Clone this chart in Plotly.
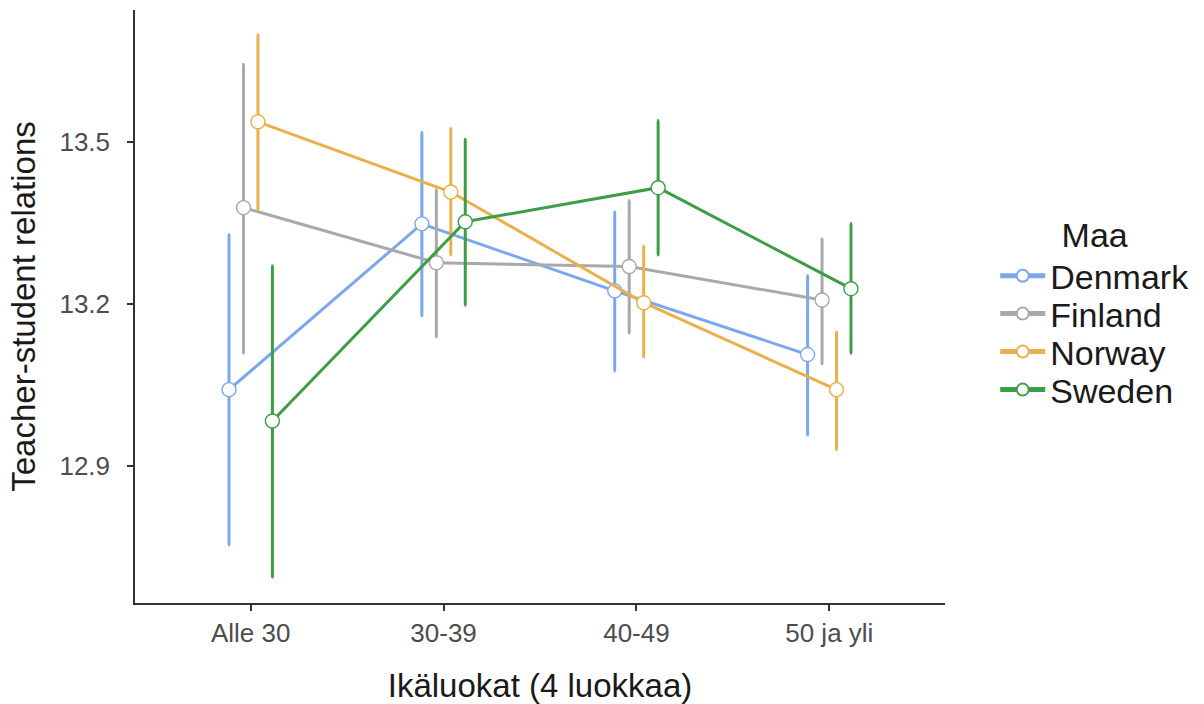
import plotly.graph_objects as go

age_groups = ["Alle 30", "30-39", "40-49", "50 ja yli"]
countries = ["Denmark", "Finland", "Norway", "Sweden"]
colors = ["#7BA7EC", "#A9A9A9", "#EAB04B", "#3E9E47"]

# mean and 95% interval per country, ordered as age_groups
means = {
    "Denmark": [13.041, 13.348, 13.224, 13.106],
    "Finland": [13.378, 13.276, 13.269, 13.207],
    "Norway":  [13.537, 13.407, 13.202, 13.041],
    "Sweden":  [12.983, 13.352, 13.415, 13.228],
}
upper = {
    "Denmark": [13.328, 13.517, 13.370, 13.252],
    "Finland": [13.643, 13.411, 13.391, 13.320],
    "Norway":  [13.698, 13.524, 13.306, 13.148],
    "Sweden":  [13.270, 13.504, 13.539, 13.348],
}
lower = {
    "Denmark": [12.754, 13.178, 13.076, 12.957],
    "Finland": [13.109, 13.139, 13.146, 13.089],
    "Norway":  [13.374, 13.291, 13.102, 12.930],
    "Sweden":  [12.694, 13.198, 13.291, 13.109],
}

dodge = [-0.1125, -0.0375, 0.0375, 0.1125]
legend_ids = ["legend", "legend2", "legend3", "legend4"]

FONT = "Liberation Sans, Arial, sans-serif"
TXT = "#1A1A1A"

fig = go.Figure()
for i, (c, col) in enumerate(zip(countries, colors)):
    xs = [k + 1 + dodge[i] for k in range(len(age_groups))]
    m = means[c]
    fig.add_trace(go.Scatter(
        x=xs, y=m, name=c, mode="lines+markers", legend=legend_ids[i],
        line=dict(color=col, width=3),
        marker=dict(size=14, color="white", line=dict(color=col, width=1.4)),
        error_y=dict(
            type="data", symmetric=False,
            array=[u - v for u, v in zip(upper[c], m)],
            arrayminus=[v - l for v, l in zip(m, lower[c])],
            color=col, thickness=3, width=1,
        ),
    ))

# plot area spans 10..603 px vertically; one single-entry legend per country
def paper_y(py):
    return (603 - py) / 593

legend_common = dict(
    font=dict(size=34, color=TXT, family=FONT),
    x=1.062, xanchor="left", yanchor="middle",
    itemsizing="constant", itemwidth=45, bgcolor="rgba(0,0,0,0)",
)
item_y = [276, 314, 352, 390]
layout_legends = {}
for i, lid in enumerate(legend_ids):
    spec = dict(legend_common, y=paper_y(item_y[i]))
    if i == 0:
        spec["title"] = dict(text="Maa", font=dict(size=34, color=TXT, family=FONT), side="top center")
        spec["yanchor"] = "bottom"
        spec["y"] = paper_y(item_y[0] + 29)
    layout_legends[lid] = spec

tick_font = dict(family=FONT, size=26, color="#4D4D4D")
fig.update_layout(
    width=1204, height=704,
    margin=dict(l=135, r=259, t=10, b=101, autoexpand=False),
    plot_bgcolor="white", paper_bgcolor="white",
    font=dict(family=FONT, color=TXT),
    showlegend=True,
    xaxis=dict(
        range=[0.4, 4.6], tickvals=[1, 2, 3, 4], ticktext=age_groups,
        showgrid=False, zeroline=False, showline=True, linecolor="#333333", linewidth=1.5,
        ticks="outside", ticklen=6, tickcolor="#333333", tickwidth=1.5,
        tickfont=tick_font, automargin=False,
        title=dict(text="Ikäluokat (4 luokkaa)", font=dict(size=33, color=TXT), standoff=27),
    ),
    yaxis=dict(
        range=[12.646, 13.744], tickvals=[12.9, 13.2, 13.5], ticktext=["12.9", "13.2", "13.5"],
        showgrid=False, zeroline=False, showline=True, linecolor="#333333", linewidth=1.5,
        ticks="outside", ticklen=6, tickcolor="#333333", tickwidth=1.5,
        tickfont=tick_font, ticklabelstandoff=12, automargin=False,
        title=dict(text="Teacher-student relations", font=dict(size=33, color=TXT), standoff=14),
    ),
    **layout_legends,
)

fig.write_html("out.html")
